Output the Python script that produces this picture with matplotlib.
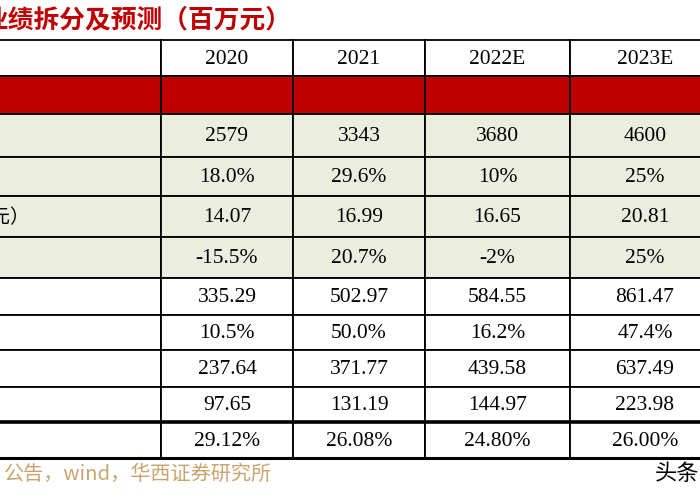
import matplotlib
matplotlib.use("Agg")
import matplotlib.pyplot as plt
from matplotlib.patches import Rectangle

years = ["2020", "2021", "2022E", "2023E"]
rows = [
    ["", "", "", ""],
    ["2579", "3343", "3680", "4600"],
    ["18.0%", "29.6%", "10%", "25%"],
    ["14.07", "16.99", "16.65", "20.81"],
    ["-15.5%", "20.7%", "-2%", "25%"],
    ["335.29", "502.97", "584.55", "861.47"],
    ["10.5%", "50.0%", "16.2%", "47.4%"],
    ["237.64", "371.77", "439.58", "637.49"],
    ["97.65", "131.19", "144.97", "223.98"],
    ["29.12%", "26.08%", "24.80%", "26.00%"],
]
row_labels = ["", "", "", "", "价格（元）", "", "", "", "", "", ""]
title = "业绩拆分及预测（百万元）"
source = "公告，wind，华西证券研究所"

# layout in pixels
col_x = [-10, 161, 293, 425, 570, 720]
row_y = [40, 76, 114, 157, 196, 237, 278, 315, 350, 387, 422, 458]
fills = ["white", "#C00000"] + ["#EBEEDF"] * 4 + ["white"] * 5

fig = plt.figure(figsize=(7, 5), dpi=100)
ax = fig.add_axes([0, 0, 1, 1])
ax.set_xlim(0, 700)
ax.set_ylim(500, 0)
ax.axis("off")

num_font = "Liberation Serif"
cjk = "Noto Sans CJK SC"

for r in range(len(row_y) - 1):
    y0, y1 = row_y[r], row_y[r + 1]
    for c in range(len(col_x) - 1):
        ax.add_patch(Rectangle((col_x[c], y0), col_x[c + 1] - col_x[c], y1 - y0,
                               facecolor=fills[r], edgecolor="black", lw=1.3))
    yc = (y0 + y1) / 2 + 1
    vals = years if r == 0 else rows[r - 1]
    for c, v in enumerate(vals):
        ax.text((col_x[c + 1] + col_x[c + 2]) / 2, yc, v, ha="center", va="center",
                fontsize=15.5, family=num_font, color="black")
    if row_labels[r]:
        ax.text(30, yc, row_labels[r], ha="right", va="center", fontsize=14, family=cjk)

ax.plot([0, 700], [row_y[-2], row_y[-2]], color="black", lw=2.6)
ax.plot([0, 700], [row_y[-1], row_y[-1]], color="black", lw=2.2)

ax.text(-17, 20, title, ha="left", va="center", fontsize=18.5, family=cjk,
        color="#C00000", fontweight="bold")
ax.text(4, 474, source, ha="left", va="center", fontsize=14.5, family=cjk, color="#C8A46E")
ax.text(655, 474, "头条", ha="left", va="center", fontsize=16, family=cjk, color="black")

fig.savefig("out.png", dpi=100)
